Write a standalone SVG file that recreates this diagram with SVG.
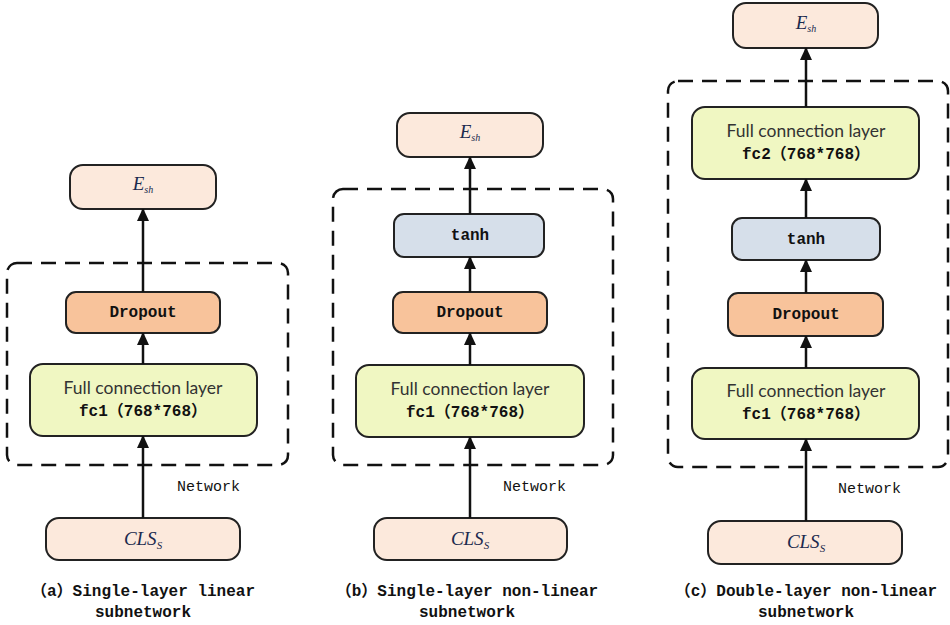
<svg xmlns="http://www.w3.org/2000/svg" width="950" height="625" viewBox="0 0 950 625">
<style>
.bg{fill:#ffffff}
.nd{stroke:#222;stroke-width:2}
.io{fill:#fce9dc}
.dp{fill:#f8c39b}
.fc{fill:#f0f7c2}
.th{fill:#d6dfea}
.dash{fill:none;stroke:#111;stroke-width:2.5;stroke-dasharray:15 9}
.ar{stroke:#111;stroke-width:2.5;fill:none;marker-end:url(#ah)}
.sans{font-family:Lato,"Open Sans","Liberation Sans",sans-serif;font-size:17.5px;fill:#333;text-anchor:middle}
.mono{font-family:"Liberation Mono","Noto Sans CJK SC",monospace;font-size:16px;fill:#111;text-anchor:middle}
.b{font-weight:bold}
.net{font-family:"Liberation Mono",monospace;font-size:15px;fill:#111}
.math{font-family:"Liberation Serif",serif;font-style:italic;fill:#1b2a4e;text-anchor:middle}
</style>
<defs>
<marker id="ah" markerUnits="userSpaceOnUse" markerWidth="12" markerHeight="14" refX="12" refY="6" orient="auto">
<path d="M0,0 L13,6 L0,12 z" fill="#111"/>
</marker>
</defs>
<rect class="bg" x="0" y="0" width="950" height="625"/>

<!-- Panel a -->
<g id="a-network"><rect class="dash" x="7" y="263" width="281" height="202" rx="10"/><text class="net" x="177" y="491">Network</text></g>
<g id="a-esh"><rect class="nd io" x="70" y="165" width="146" height="44" rx="13"/><text class="math" x="143" y="190" font-size="19">E<tspan font-size="10" dy="3">sh</tspan></text></g>
<g id="a-dropout"><rect class="nd dp" x="66" y="292" width="154" height="41" rx="10"/><text class="mono b" x="143" y="317">Dropout</text></g>
<g id="a-fc1"><rect class="nd fc" x="30" y="364" width="227" height="72" rx="13"/><text class="sans" x="143" y="394">Full connection layer</text><text class="mono b" x="143" y="416">fc1（768*768）</text></g>
<g id="a-cls"><rect class="nd io" x="46" y="518" width="194" height="42" rx="13"/><text class="math" x="143" y="545" font-size="19">CLS<tspan font-size="11" dy="4">S</tspan></text></g>
<g id="a-caption"><text class="mono b" x="143" y="596">（a）Single-layer linear</text><text class="mono b" x="143" y="617">subnetwork</text></g>

<!-- Panel b -->
<g id="b-network"><rect class="dash" x="333" y="189" width="280" height="276" rx="10"/><text class="net" x="503" y="491">Network</text></g>
<g id="b-esh"><rect class="nd io" x="397" y="113" width="146" height="44" rx="13"/><text class="math" x="470" y="138" font-size="19">E<tspan font-size="10" dy="3">sh</tspan></text></g>
<g id="b-tanh"><rect class="nd th" x="394" y="214" width="150" height="43" rx="10"/><text class="mono b" x="470" y="240">tanh</text></g>
<g id="b-dropout"><rect class="nd dp" x="393" y="292" width="154" height="41" rx="10"/><text class="mono b" x="470" y="317">Dropout</text></g>
<g id="b-fc1"><rect class="nd fc" x="356" y="365" width="228" height="72" rx="13"/><text class="sans" x="470" y="395">Full connection layer</text><text class="mono b" x="470" y="417">fc1（768*768）</text></g>
<g id="b-cls"><rect class="nd io" x="374" y="518" width="193" height="42" rx="13"/><text class="math" x="470" y="545" font-size="19">CLS<tspan font-size="11" dy="4">S</tspan></text></g>
<g id="b-caption"><text class="mono b" x="467" y="596">（b）Single-layer non-linear</text><text class="mono b" x="467" y="617">subnetwork</text></g>

<!-- Panel c -->
<g id="c-network"><rect class="dash" x="668" y="81" width="280" height="386" rx="10"/><text class="net" x="838" y="493">Network</text></g>
<g id="c-esh"><rect class="nd io" x="733" y="3" width="145" height="45" rx="13"/><text class="math" x="806" y="29" font-size="19">E<tspan font-size="10" dy="3">sh</tspan></text></g>
<g id="c-fc2"><rect class="nd fc" x="692" y="107" width="227" height="72" rx="13"/><text class="sans" x="806" y="137">Full connection layer</text><text class="mono b" x="806" y="159">fc2（768*768）</text></g>
<g id="c-tanh"><rect class="nd th" x="732" y="218" width="148" height="42" rx="10"/><text class="mono b" x="806" y="244">tanh</text></g>
<g id="c-dropout"><rect class="nd dp" x="728" y="293" width="155" height="43" rx="10"/><text class="mono b" x="806" y="319">Dropout</text></g>
<g id="c-fc1"><rect class="nd fc" x="692" y="368" width="227" height="71" rx="13"/><text class="sans" x="806" y="397">Full connection layer</text><text class="mono b" x="806" y="419">fc1（768*768）</text></g>
<g id="c-cls"><rect class="nd io" x="708" y="521" width="194" height="43" rx="13"/><text class="math" x="806" y="548" font-size="19">CLS<tspan font-size="11" dy="4">S</tspan></text></g>
<g id="c-caption"><text class="mono b" x="806" y="596">（c）Double-layer non-linear</text><text class="mono b" x="806" y="617">subnetwork</text></g>

<g id="connectors">
<line class="ar" x1="143" y1="518" x2="143" y2="436"/>
<line class="ar" x1="143" y1="364" x2="143" y2="333"/>
<line class="ar" x1="143" y1="292" x2="143" y2="209"/>
<line class="ar" x1="470" y1="518" x2="470" y2="437"/>
<line class="ar" x1="470" y1="365" x2="470" y2="333"/>
<line class="ar" x1="470" y1="292" x2="470" y2="257"/>
<line class="ar" x1="470" y1="214" x2="470" y2="157"/>
<line class="ar" x1="806" y1="521" x2="806" y2="439"/>
<line class="ar" x1="806" y1="368" x2="806" y2="336"/>
<line class="ar" x1="806" y1="293" x2="806" y2="260"/>
<line class="ar" x1="806" y1="218" x2="806" y2="179"/>
<line class="ar" x1="806" y1="107" x2="806" y2="48"/>
</g>
</svg>
